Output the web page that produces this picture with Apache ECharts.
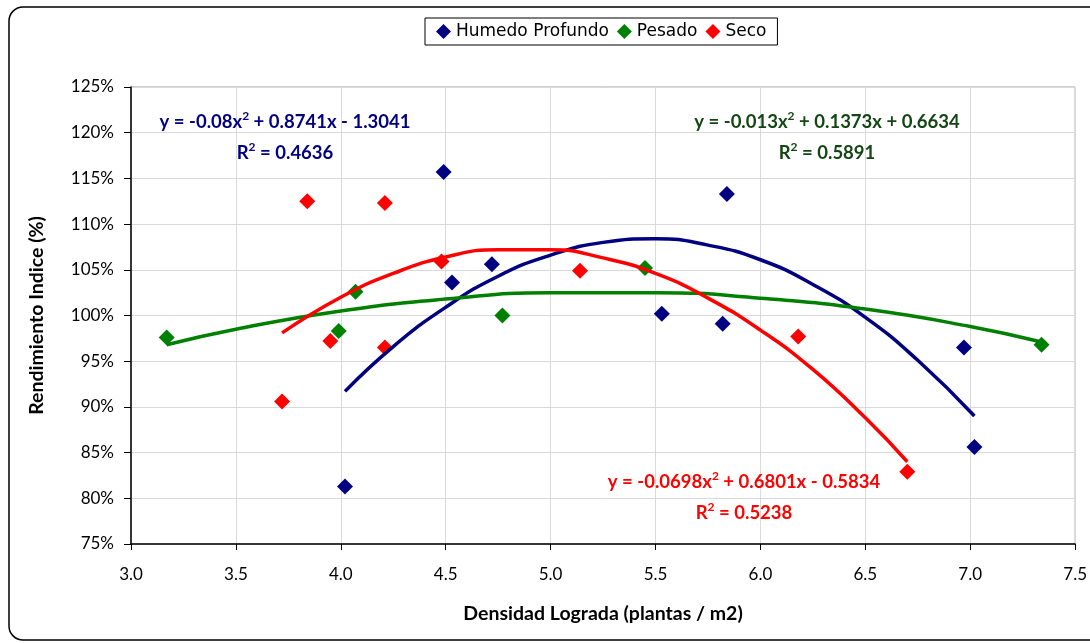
<!DOCTYPE html>
<html>
<head>
<meta charset="utf-8">
<title>Rendimiento Indice vs Densidad</title>
<script src="https://cdn.jsdelivr.net/npm/echarts@6/dist/echarts.min.js"></script>
<style>
  html, body { margin: 0; padding: 0; background: #fff; }
  #chart { width: 1090px; height: 643px; }
</style>
</head>
<body>
<div id="chart"></div>
<script>
// puntos observados [densidad, rendimiento %]
const humedoProfundo = [
  [4.02, 81.3], [4.49, 115.7], [4.53, 103.6], [4.72, 105.6], [5.53, 100.2],
  [5.84, 113.3], [5.82, 99.1], [6.97, 96.5], [7.02, 85.6]
];
const pesado = [
  [3.17, 97.6], [3.99, 98.3], [4.07, 102.6], [4.77, 100.0], [5.45, 105.2], [7.34, 96.8]
];
const seco = [
  [3.72, 90.6], [3.84, 112.5], [3.95, 97.2], [4.21, 112.3], [4.21, 96.5],
  [4.48, 105.9], [5.14, 104.9], [6.18, 97.7], [6.70, 82.9]
];

// lineas de tendencia (polinomica 2do orden)
const trendHumedo = [
  [4.02, 91.7], [4.25, 96.6], [4.5, 100.9], [4.75, 104.3], [5.0, 106.6], [5.25, 108.0],
  [5.5, 108.4], [5.75, 107.7], [6.0, 106.1], [6.25, 103.4], [6.5, 99.8], [6.75, 95.1], [7.02, 89.0]
];
const trendPesado = [
  [3.17, 96.8], [3.5, 98.5], [4.0, 100.5], [4.5, 101.8], [5.0, 102.5], [5.5, 102.5],
  [6.0, 101.9], [6.5, 100.7], [7.0, 98.8], [7.34, 97.1]
];
const trendSeco = [
  [3.72, 98.1], [4.0, 102.0], [4.25, 104.6], [4.5, 106.4], [4.75, 107.2], [5.0, 107.2],
  [5.25, 106.3], [5.5, 104.6], [5.75, 101.9], [6.0, 98.4], [6.25, 94.1], [6.5, 88.8], [6.70, 84.0]
];

// ecuaciones mostradas
const eqHumedo = ['y = -0.08x', ' + 0.8741x - 1.3041', 'R', ' = 0.4636'];
const eqPesado = ['y = -0.013x', ' + 0.1373x + 0.6634', 'R', ' = 0.5891'];
const eqSeco = ['y = -0.0698x', ' + 0.6801x - 0.5834', 'R', ' = 0.5238'];

const NAVY = '#000080';
const GREEN = '#008000';
const RED = '#FF0000';
const FONT = 'Lato';

const chart = echarts.init(document.getElementById('chart'));

function eqText(eq, color, cx, cy) {
  const rich = {
    a: { fontFamily: FONT, fontWeight: 'bold', fontSize: 18.5, fill: color },
    s: { fontFamily: FONT, fontWeight: 'bold', fontSize: 12, fill: color, padding: [0, 0, 12, 0] }
  };
  return [
    {
      type: 'text', silent: true, z: 100,
      style: { x: cx, y: cy, align: 'center', verticalAlign: 'middle', fill: color, rich: rich,
        text: `{a|${eq[0]}}{s|2}{a|${eq[1]}}` }
    },
    {
      type: 'text', silent: true, z: 100,
      style: { x: cx, y: cy + 31, align: 'center', verticalAlign: 'middle', fill: color, rich: rich,
        text: `{a|${eq[2]}}{s|2}{a|${eq[3]}}` }
    }
  ];
}

const option = {
  animation: false,
  backgroundColor: '#fff',
  textStyle: { fontFamily: FONT },
  legend: {
    data: ['Humedo Profundo', 'Pesado', 'Seco'],
    left: 425,
    top: 18,
    padding: [5, 11, 5, 11],
    itemGap: 8,
    itemWidth: 15,
    itemHeight: 15,
    borderColor: '#000',
    borderWidth: 1,
    textStyle: { fontFamily: 'DejaVu Sans', fontSize: 17, color: '#000' }
  },
  grid: {
    left: 131,
    right: 12,
    top: 87,
    bottom: 99,
    show: true,
    borderColor: '#a0a0a0',
    borderWidth: 1
  },
  xAxis: {
    type: 'value',
    min: 3,
    max: 7.5,
    interval: 0.5,
    name: 'Densidad Lograda (plantas / m2)',
    nameLocation: 'middle',
    nameGap: 60,
    nameTextStyle: { fontFamily: FONT, fontWeight: 'bold', fontSize: 19.5, color: '#000' },
    axisLine: { show: true, onZero: false, lineStyle: { color: '#000', width: 1.5 } },
    axisTick: { show: true, length: 6, lineStyle: { color: '#000' } },
    axisLabel: {
      margin: 22,
      fontFamily: FONT, fontSize: 17, color: '#000',
      formatter: (v) => v.toFixed(1)
    },
    splitLine: { show: true, lineStyle: { color: '#d9d9d9' } }
  },
  yAxis: {
    type: 'value',
    min: 75,
    max: 125,
    interval: 5,
    name: 'Rendimiento Indice (%)',
    nameLocation: 'middle',
    nameGap: 84,
    nameTextStyle: { fontFamily: FONT, fontWeight: 'bold', fontSize: 19.5, color: '#000' },
    axisLine: { show: true, lineStyle: { color: '#000', width: 1.5 } },
    axisTick: { show: true, length: 7, lineStyle: { color: '#000' } },
    axisLabel: {
      margin: 17,
      fontFamily: FONT, fontSize: 17, color: '#000',
      formatter: '{value}%'
    },
    splitLine: { show: true, lineStyle: { color: '#d9d9d9' } }
  },
  series: [
    { name: 'Humedo Profundo', type: 'scatter', symbol: 'diamond', symbolSize: 16,
      itemStyle: { color: NAVY, opacity: 1 }, data: humedoProfundo, z: 2 },
    { name: 'Pesado', type: 'scatter', symbol: 'diamond', symbolSize: 16,
      itemStyle: { color: GREEN, opacity: 1 }, data: pesado, z: 2 },
    { name: 'Seco', type: 'scatter', symbol: 'diamond', symbolSize: 16,
      itemStyle: { color: RED, opacity: 1 }, data: seco, z: 2 },
    // tendencias
    { name: 'trendHumedo', type: 'line', smooth: true, showSymbol: false, symbol: 'none',
      lineStyle: { color: NAVY, width: 3.5 }, data: trendHumedo, z: 3 },
    { name: 'trendPesado', type: 'line', smooth: true, showSymbol: false, symbol: 'none',
      lineStyle: { color: GREEN, width: 3.5 }, data: trendPesado, z: 3 },
    { name: 'trendSeco', type: 'line', smooth: true, showSymbol: false, symbol: 'none',
      lineStyle: { color: RED, width: 3.5 }, data: trendSeco, z: 3 }
  ],
  graphic: [
    // marco del grafico
    {
      type: 'rect', silent: true, z: -1,
      shape: { x: 9, y: 7, width: 1100, height: 633, r: 14 },
      style: { fill: 'none', stroke: '#000', lineWidth: 1.5 }
    },
    ...eqText(eqHumedo, NAVY, 285, 122),
    ...eqText(eqPesado, '#144614', 827, 122),
    ...eqText(eqSeco, RED, 744, 482)
  ]
};

chart.setOption(option);
</script>
</body>
</html>
